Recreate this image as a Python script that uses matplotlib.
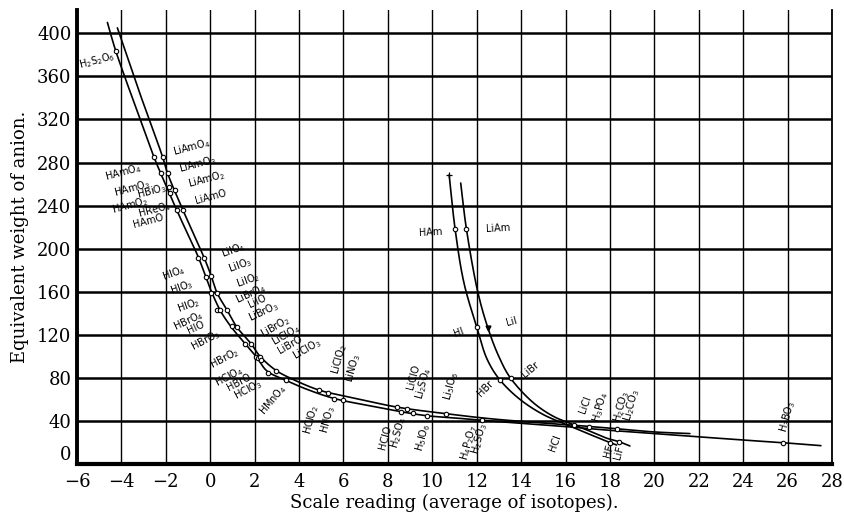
import matplotlib
matplotlib.use("Agg")
import matplotlib.pyplot as plt
import numpy as np

# ---------------- data ----------------
x_ticks = list(range(-6, 29, 2))
y_ticks = list(range(0, 401, 40))

# curve traces
h_oxy_x = [-4.63, -4.26, -3.4, -2.53, -2.0, -1.51, -1.0, -0.53, 0.04, 0.5, 1.0, 1.57, 2.07, 2.59, 3.4, 4.3, 5.59, 7.0, 8.58, 9.78, 11.0, 12.25, 14.0, 16.0, 18.0, 20.0, 22.0, 24.0, 25.8, 27.5]
h_oxy_y = [410, 384, 334, 285, 259, 236, 213, 192, 161, 141, 126, 112, 100, 86, 78, 70, 61, 55, 48.8, 45, 43, 40.8, 38, 35, 31.5, 28.5, 25.5, 22.5, 20, 17.3]

li_oxy_x = [-4.18, -3.2, -2.14, -1.92, -1.23, -0.26, 0.04, 0.31, 0.76, 1.21, 1.84, 2.25, 2.97, 3.6, 4.88, 6.0, 8.43, 10.6, 12.5, 14.5, 16.4, 18.3, 20.0, 21.6]
li_oxy_y = [405, 346, 285, 270, 236, 191, 175, 159, 143, 127, 112, 100, 87, 80, 69, 63.5, 53, 47, 42.5, 39, 36.2, 33, 30, 28.5]

h_hal_x = [10.76, 11.03, 11.43, 12.0, 12.48, 13.05, 13.98, 15.03, 16.08, 16.97, 18.02, 18.3]
h_hal_y = [268.5, 218, 168, 127.5, 97, 78.2, 59.7, 45.8, 36.5, 28.8, 20, 17.9]

li_hal_x = [11.28, 11.54, 12.06, 12.51, 13.0, 13.53, 14.58, 15.48, 16.2, 16.97, 17.87, 18.4, 18.9]
li_hal_y = [261, 218, 159, 126.2, 99.9, 79.8, 56.6, 44.2, 38, 31.8, 24.1, 21, 17]

# compound points (open circles)
h_pts_x = [-4.26, -2.53, -2.23, -1.87, -1.80, -1.51, -0.53, -0.21, 0.04, 0.30, 0.46, 0.97, 1.57, 2.07, 2.17, 2.59, 3.42, 5.59, 5.96, 8.58, 9.11, 9.78, 12.25, 25.8]
h_pts_y = [384, 285, 270, 257, 252, 236, 191, 174, 159, 143, 143, 128, 112, 100, 99, 85, 78, 61, 60, 48.5, 47.8, 45, 40.8, 20]
li_pts_x = [-2.14, -1.92, -1.60, -1.23, -0.26, 0.04, 0.31, 0.76, 1.21, 1.84, 2.25, 2.29, 2.97, 4.88, 5.29, 8.43, 8.88, 10.6, 16.4, 17.05, 18.3]
li_pts_y = [285, 270, 255, 236, 191, 175, 159, 143, 127, 112, 100, 97, 87, 69, 66.5, 53, 51.5, 47, 36.2, 35, 33]
hh_pts_x = [11.03, 12.0, 13.05, 18.02]
hh_pts_y = [218, 127.5, 78.2, 19.8]
lh_pts_x = [11.54, 13.53, 18.4]
lh_pts_y = [218, 79.8, 20.5]
li_i_pt = (12.51, 126.2)      # drawn as a filled dot
h_am_end = (10.76, 268.5)     # small tick at the top of the HAm curve

# labels: text, x, y, rotation
labels = [
    (r"H$_2$S$_2$O$_6$", -5.08, 375, 15),
    (r"HAmO$_4$", -3.9, 271, 15),
    (r"HAmO$_3$", -3.5, 256, 15),
    (r"HBiO$_3$", -2.65, 253, 15),
    (r"HAmO$_2$", -3.6, 240, 15),
    (r"HReO$_4$", -2.5, 236, 15),
    (r"HAmO", -2.79, 226, 15),
    (r"LiAmO$_4$", -0.85, 294, 15),
    (r"LiAmO$_3$", -0.58, 278, 15),
    (r"LiAmO$_2$", -0.18, 264.5, 15),
    (r"LiAmO", 0.04, 248, 15),
    (r"LiIO$_4$", 1.03, 199, 20),
    (r"LiIO$_3$", 1.35, 185, 20),
    (r"LiIO$_2$", 1.71, 171, 20),
    (r"LiBrO$_4$", 1.84, 158, 25),
    (r"LiIO", 2.11, 151, 25),
    (r"LiBrO$_3$", 2.43, 141, 25),
    (r"LiBrO$_2$", 2.92, 127.5, 30),
    (r"LiClO$_4$", 3.42, 120, 30),
    (r"LiBrO", 3.6, 111, 30),
    (r"LiClO$_3$", 4.36, 107, 30),
    (r"LiClO$_2$", 5.8, 97.8, 75),
    (r"LiNO$_3$", 6.43, 89, 75),
    (r"HIO$_4$", -1.62, 177, 20),
    (r"HIO$_3$", -1.3, 164.5, 20),
    (r"HIO$_2$", -0.99, 147, 20),
    (r"HBrO$_4$", -0.99, 133, 25),
    (r"HIO", -0.67, 127, 25),
    (r"HBrO$_3$", -0.22, 114.5, 28),
    (r"HBrO$_2$", 0.63, 97.7, 28),
    (r"HClO$_4$", 0.85, 81, 28),
    (r"HBrO", 1.3, 76.5, 28),
    (r"HClO$_3$", 1.71, 69, 28),
    (r"HMnO$_4$", 2.83, 59.7, 50),
    (r"HClO$_2$", 4.54, 41, 75),
    (r"HNO$_3$", 5.3, 41, 75),
    (r"HClO", 7.9, 25, 75),
    (r"H$_2$SO$_4$", 8.5, 29, 75),
    (r"H$_5$IO$_6$", 9.57, 25, 75),
    (r"LiClO", 9.17, 81, 75),
    (r"Li$_2$SO$_4$", 9.62, 75.5, 75),
    (r"Li$_5$IO$_6$", 10.83, 72.7, 75),
    (r"H$_4$P$_2$O$_7$", 11.64, 20, 75),
    (r"H$_2$SO$_3$", 12.13, 24, 75),
    (r"HBr", 12.4, 70, 45),
    (r"LiBr", 14.43, 87.5, 40),
    (r"HCl", 15.55, 20, 70),
    (r"LiCl", 16.9, 55, 70),
    (r"H$_3$PO$_4$", 17.57, 53.5, 75),
    (r"H$_2$CO$_3$", 18.52, 53.5, 75),
    (r"Li$_2$CO$_3$", 19.0, 55, 75),
    (r"HF", 17.93, 12.3, 75),
    (r"LiF", 18.4, 10.5, 75),
    (r"H$_3$BO$_3$", 25.98, 44, 75),
    (r"HAm", 9.93, 215.6, 3),
    (r"LiAm", 12.94, 219, 3),
    (r"HI", 11.2, 122, 20),
    (r"LiI", 13.57, 132, 15),
]


def smooth_curve(xs, ys, sx=34.0, sy=420.0, n=24):
    """Centripetal Catmull-Rom rendering of a hand-drawn curve through the read points."""
    P = np.column_stack([np.asarray(xs, float) / sx, np.asarray(ys, float) / sy])
    P = np.vstack([2 * P[0] - P[1], P, 2 * P[-1] - P[-2]])
    segs = []
    for i in range(1, len(P) - 2):
        p0, p1, p2, p3 = P[i - 1], P[i], P[i + 1], P[i + 2]
        t0 = 0.0
        t1 = t0 + np.linalg.norm(p1 - p0) ** 0.5
        t2 = t1 + np.linalg.norm(p2 - p1) ** 0.5
        t3 = t2 + np.linalg.norm(p3 - p2) ** 0.5
        t = np.linspace(t1, t2, n)[:, None]
        A1 = (t1 - t) / (t1 - t0) * p0 + (t - t0) / (t1 - t0) * p1
        A2 = (t2 - t) / (t2 - t1) * p1 + (t - t1) / (t2 - t1) * p2
        A3 = (t3 - t) / (t3 - t2) * p2 + (t - t2) / (t3 - t2) * p3
        B1 = (t2 - t) / (t2 - t0) * A1 + (t - t0) / (t2 - t0) * A2
        B2 = (t3 - t) / (t3 - t1) * A2 + (t - t1) / (t3 - t1) * A3
        C = (t2 - t) / (t2 - t1) * B1 + (t - t1) / (t2 - t1) * B2
        segs.append(C)
    C = np.vstack(segs)
    return C[:, 0] * sx, C[:, 1] * sy


# ---------------- drawing ----------------
fig = plt.figure(figsize=(8.45, 5.18), dpi=100)
ax = fig.add_axes([0.0911, 0.1037, 0.8935, 0.877])
ax.set_xlim(-6, 28)
ax.set_ylim(0, 421.6)
ax.set_xticks(x_ticks)
ax.set_yticks(y_ticks)

serif = "DejaVu Serif"
ax.set_xticklabels([str(v).replace("-", "\u2212") for v in x_ticks], fontfamily=serif, fontsize=13)
ax.set_yticklabels([str(v) for v in y_ticks], fontfamily=serif, fontsize=13)
ax.tick_params(axis="x", length=0, pad=6)
ax.tick_params(axis="y", length=0, pad=4)
# the "0" of the value axis sits just above the base line, as in the original
ax.get_yticklabels()[0].set_verticalalignment("bottom")

ax.xaxis.grid(True, color="black", lw=1.0)
ax.yaxis.grid(True, color="black", lw=1.8)
ax.set_axisbelow(True)

for side, lw in [("left", 2.8), ("bottom", 3.0), ("right", 1.3)]:
    ax.spines[side].set_linewidth(lw)
    ax.spines[side].set_color("black")
ax.spines["top"].set_visible(False)

for xs, ys in [(h_oxy_x, h_oxy_y), (li_oxy_x, li_oxy_y), (h_hal_x, h_hal_y), (li_hal_x, li_hal_y)]:
    sx_, sy_ = smooth_curve(xs, ys)
    ax.plot(sx_, sy_, color="black", lw=1.2, solid_capstyle="round", zorder=3)

for xs, ys in [(h_pts_x, h_pts_y), (li_pts_x, li_pts_y), (hh_pts_x, hh_pts_y), (lh_pts_x, lh_pts_y)]:
    ax.plot(xs, ys, ls="none", marker="o", ms=3.2, mfc="white", mec="black", mew=0.8, zorder=4)
ax.plot([li_i_pt[0]], [li_i_pt[1]], ls="none", marker="v", ms=3.5, color="black", zorder=4)
ax.plot([h_am_end[0]], [h_am_end[1]], ls="none", marker="+", ms=4, mew=0.9, color="black", zorder=4)

for txt, x, y, rot in labels:
    ax.text(x, y, txt, fontsize=7, rotation=rot, ha="center", va="center",
            fontfamily="DejaVu Sans", zorder=5)

ax.set_xlabel("Scale reading (average of isotopes).", fontfamily=serif, fontsize=13, labelpad=2)
ax.set_ylabel("Equivalent weight of anion.", fontfamily=serif, fontsize=13, labelpad=6)

fig.savefig("out.png", dpi=100)
